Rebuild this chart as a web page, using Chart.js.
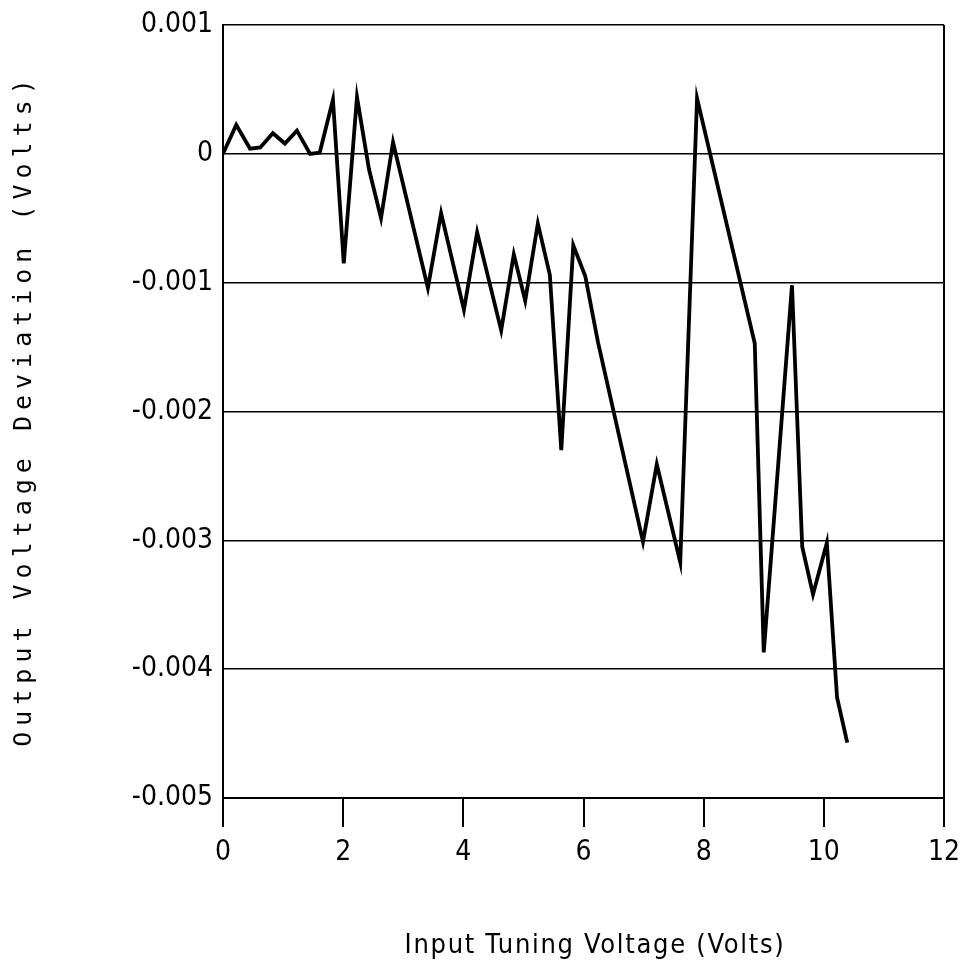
<!DOCTYPE html>
<html>
<head>
<meta charset="utf-8">
<script src="https://cdn.jsdelivr.net/npm/chart.js@4"></script>
<style>
  html, body { margin: 0; padding: 0; background: #fff; }
  canvas { display: block; }
</style>
</head>
<body>
<canvas id="grafik" width="961" height="965"></canvas>
<script>
const inputVolts = [
  0, 0.22, 0.45, 0.62, 0.83, 1.03, 1.23, 1.45, 1.61, 1.83,
  2.01, 2.23, 2.43, 2.63, 2.83, 3.41, 3.63, 4.01, 4.23, 4.63,
  4.84, 5.03, 5.24, 5.44, 5.63, 5.83, 6.03, 6.24, 6.99, 7.22,
  7.61, 7.89, 8.85, 9.0, 9.47, 9.64, 9.82, 10.05, 10.22, 10.39
];
const deviasi = [
  0, 0.000225, 0.00004, 0.00005, 0.00016, 0.00008, 0.00018, 0, 0.00001, 0.00042,
  -0.00085, 0.00044, -0.00012, -0.0005, 0.00009, -0.00104, -0.00046, -0.00121, -0.00061, -0.00137,
  -0.00078, -0.00114, -0.00054, -0.00094, -0.0023, -0.00071, -0.00095, -0.00146, -0.00301, -0.00241,
  -0.00317, 0.00043, -0.00147, -0.00387, -0.00102, -0.00305, -0.00342, -0.00302, -0.00422, -0.00457
];
const xTicks = [0, 2, 4, 6, 8, 10, 12];
const yTicks = [0.001, 0, -0.001, -0.002, -0.003, -0.004, -0.005];
const xTitle = "Input Tuning Voltage (Volts)";
const yTitle = "Output Voltage Deviation (Volts)";

const tickFont = { family: "'DejaVu Sans Condensed', sans-serif", size: 28, lineHeight: 1 };

// judul sumbu digambar sendiri supaya bisa pakai letterSpacing
const judulSumbu = {
  id: "judulSumbu",
  afterDraw(chart) {
    const ctx = chart.ctx;
    ctx.save();
    ctx.fillStyle = "#000";
    ctx.textAlign = "center";
    ctx.textBaseline = "alphabetic";

    ctx.font = "27px 'DejaVu Sans Condensed', sans-serif";
    ctx.letterSpacing = "1.7px";
    ctx.fillText(xTitle, 595, 953);

    ctx.font = "25px 'DejaVu Sans Mono', monospace";
    ctx.letterSpacing = "6px";
    ctx.translate(31, 410);
    ctx.rotate(-Math.PI / 2);
    ctx.fillText(yTitle, 0, 0);
    ctx.restore();
  }
};

new Chart(document.getElementById("grafik"), {
  type: "scatter",
  data: {
    datasets: [{
      data: inputVolts.map((x, i) => ({ x, y: deviasi[i] })),
      showLine: true,
      borderColor: "#000",
      borderWidth: 3.8,
      pointRadius: 0,
      tension: 0
    }]
  },
  options: {
    responsive: false,
    animation: false,
    layout: { padding: { top: 25, right: 17, left: 0, bottom: 0 } },
    plugins: {
      legend: { display: false },
      tooltip: { enabled: false }
    },
    scales: {
      x: {
        type: "linear",
        min: xTicks[0],
        max: xTicks[xTicks.length - 1],
        afterBuildTicks: s => { s.ticks = xTicks.map(v => ({ value: v })); },
        afterFit: s => { s.height = 167; s.paddingLeft = 0; s.paddingRight = 0; },
        border: { display: true, color: "#000", width: 2 },
        grid: {
          color: c => (c.tick && c.tick.value === 12 ? "#000" : "rgba(0,0,0,0)"),
          tickColor: "#000",
          lineWidth: 2,
          tickLength: 29
        },
        ticks: { color: "#000", font: tickFont, padding: 12, maxRotation: 0 }
      },
      y: {
        min: -0.005,
        max: 0.001,
        afterBuildTicks: s => { s.ticks = yTicks.map(v => ({ value: v })); },
        afterFit: s => { s.width = 223; s.paddingTop = 0; s.paddingBottom = 0; },
        border: { display: true, color: "#000", width: 2 },
        grid: { color: "#000", lineWidth: 1.5, drawTicks: false },
        ticks: {
          color: "#000",
          font: tickFont,
          padding: 10,
          callback: v => (Math.abs(v) < 1e-9 ? "0" : v.toFixed(3))
        }
      }
    }
  },
  plugins: [judulSumbu]
});
</script>
</body>
</html>
